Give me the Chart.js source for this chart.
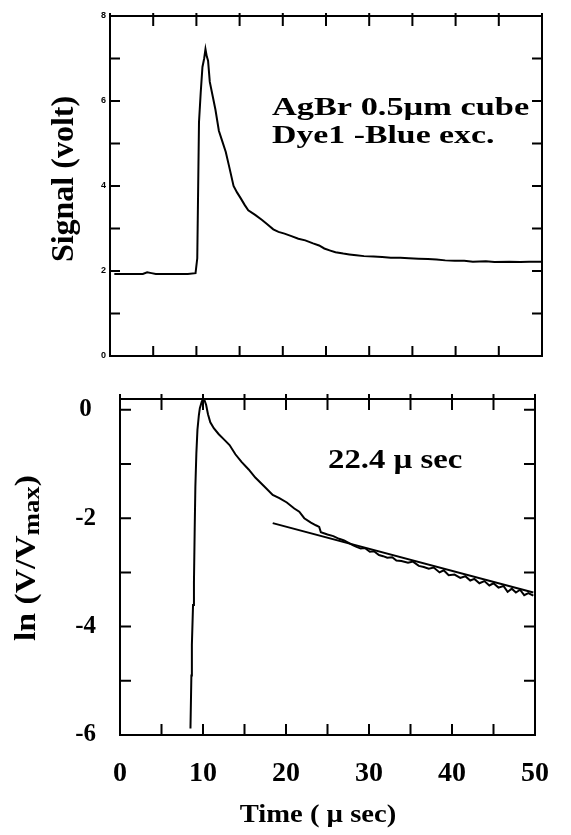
<!DOCTYPE html>
<html>
<head>
<meta charset="utf-8">
<script src="https://cdn.jsdelivr.net/npm/chart.js@4.4.1/dist/chart.umd.min.js"></script>
<style>
  body { margin: 0; background: #fff; }
  canvas { position: absolute; left: 0; }
  #signal { top: 0; }
  #lnplot { top: 360px; }
</style>
</head>
<body>
<canvas id="signal" width="571" height="372"></canvas>
<canvas id="lnplot" width="571" height="475"></canvas>
<script>
// top panel: raw signal
const signalTime = [0.5, 2.0, 3.8, 4.3, 4.8, 5.3, 7.0, 9.0, 9.9, 10.1, 10.3, 10.5, 10.7, 10.9, 11.05,
  11.2, 11.35, 11.55, 11.9, 12.2, 12.6, 13.0, 13.4, 13.8, 14.3, 14.7, 15.1, 15.6, 16.0, 16.8, 17.6,
  18.2, 18.9, 19.5, 20.2, 21.0, 21.8, 22.6, 23.5, 24.2, 24.8, 25.5, 26.1, 27.0, 27.7, 28.5, 29.4,
  30.5, 31.5, 32.5, 33.6, 34.6, 35.7, 36.8, 37.8, 38.8, 39.9, 41.0, 42.0, 43.5, 44.5, 46.2, 47.5,
  48.5, 50.0];
const signalVolt = [1.93, 1.93, 1.93, 1.97, 1.95, 1.93, 1.93, 1.93, 1.95, 2.3, 5.5, 6.2, 6.8, 7.0, 7.22,
  7.05, 6.95, 6.45, 6.1, 5.8, 5.3, 5.05, 4.8, 4.45, 4.0, 3.85, 3.72, 3.55, 3.43, 3.32, 3.2,
  3.1, 2.98, 2.92, 2.88, 2.82, 2.76, 2.72, 2.65, 2.6, 2.53, 2.48, 2.44, 2.41, 2.39, 2.37, 2.35,
  2.34, 2.33, 2.31, 2.31, 2.3, 2.29, 2.28, 2.27, 2.25, 2.24, 2.24, 2.22, 2.23, 2.21, 2.22, 2.21,
  2.22, 2.22];

// bottom panel: ln(V/Vmax) and the fitted tail
const lnTime = [8.49, 8.6, 8.66, 8.8, 8.91, 9.0, 9.08, 9.2, 9.33, 9.5, 9.62, 9.85, 10.04, 10.2, 10.38,
  10.6, 10.88, 11.3, 11.9, 12.55, 13.2, 13.9, 14.64, 15.5, 16.3, 17.3, 18.4, 19.2, 20.1, 21.0, 21.6,
  22.2, 23.0, 23.6, 24.0, 24.2, 25.0, 25.7, 26.4, 27.0, 27.6, 28.1, 28.5, 29.0, 29.5, 30.1, 30.6,
  31.2, 31.7, 32.2, 32.8, 33.3, 33.9, 34.7, 35.3, 36.0, 36.6, 37.2, 37.8, 38.5, 39.0, 39.6, 40.3,
  41.0, 41.6, 42.2, 42.7, 43.3, 43.9, 44.5, 45.0, 45.6, 46.2, 46.7, 47.2, 47.7, 48.2, 48.7, 49.2, 49.8];
const lnValue = [-5.88, -4.9, -4.34, -3.6, -3.17, -2.2, -1.42, -0.8, -0.37, -0.1, 0.03, 0.15, 0.21, 0.17, 0.09,
  -0.08, -0.23, -0.34, -0.45, -0.55, -0.65, -0.82, -0.96, -1.1, -1.25, -1.4, -1.57, -1.63, -1.71, -1.82, -1.88,
  -2.0, -2.08, -2.13, -2.16, -2.26, -2.3, -2.33, -2.38, -2.41, -2.46, -2.5, -2.53, -2.56, -2.55, -2.62, -2.61,
  -2.68, -2.7, -2.73, -2.72, -2.78, -2.79, -2.82, -2.8, -2.88, -2.9, -2.93, -2.91, -3.0, -2.96, -3.05, -3.04,
  -3.1, -3.07, -3.15, -3.12, -3.2, -3.16, -3.24, -3.2, -3.28, -3.25, -3.36, -3.3, -3.37, -3.32, -3.42, -3.38, -3.43];
const fitTime = [18.4, 49.8];
const fitValue = [-2.09, -3.37];

const xTicks = [0, 10, 20, 30, 40, 50];

const toPoints = (xs, ys) => xs.map((x, i) => ({ x: x, y: ys[i] }));
const serif = '"Liberation Serif", "Times New Roman", serif';

// draws text runs (with optional subscript), stretched horizontally like the scanned figure
function drawRuns(ctx, runs, x, y, size, stretch, rot, align) {
  ctx.save();
  ctx.translate(x, y);
  ctx.rotate(rot || 0);
  ctx.scale(stretch, 1);
  ctx.fillStyle = "#000";
  ctx.textBaseline = "alphabetic";
  ctx.textAlign = "left";
  let total = 0;
  const parts = runs.map(r => {
    const s = r.sub ? size * 0.8 : size;
    ctx.font = "bold " + s + "px " + serif;
    const w = ctx.measureText(r.t).width;
    total += w;
    return { t: r.t, s: s, w: w, dy: r.sub ? size * 0.12 : 0 };
  });
  let cx = align === "center" ? -total / 2 : 0;
  parts.forEach(p => {
    ctx.font = "bold " + p.s + "px " + serif;
    ctx.fillText(p.t, cx, p.dy);
    cx += p.w;
  });
  ctx.restore();
}

// box with inward ticks on all four sides
const frame = {
  id: "frame",
  afterDatasetsDraw(chart, args, opts) {
    const { ctx, chartArea: a, scales: { x, y } } = chart;
    ctx.save();
    ctx.strokeStyle = "#000";
    ctx.lineWidth = 2;
    ctx.strokeRect(a.left, a.top, a.right - a.left, a.bottom - a.top);
    ctx.beginPath();
    x.ticks.forEach(t => {
      const px = x.getPixelForValue(t.value);
      ctx.moveTo(px, a.bottom); ctx.lineTo(px, a.bottom - opts.len);
      ctx.moveTo(px, a.top - opts.out); ctx.lineTo(px, a.top + opts.len);
    });
    y.ticks.forEach(t => {
      const py = y.getPixelForValue(t.value);
      ctx.moveTo(a.left, py); ctx.lineTo(a.left + opts.len, py);
      ctx.moveTo(a.right, py); ctx.lineTo(a.right - opts.len, py);
    });
    ctx.stroke();
    ctx.restore();
  }
};

const notes = {
  id: "notes",
  afterDraw(chart, args, opts) {
    (opts.items || []).forEach(n => {
      drawRuns(chart.ctx, n.runs, n.x, n.y, n.size, n.stretch, n.rot, n.align);
    });
  }
};

const line = (data) => ({
  data: data,
  borderColor: "#000",
  borderWidth: 2,
  pointRadius: 0,
  tension: 0,
});

new Chart(document.getElementById("signal"), {
  type: "line",
  data: { datasets: [line(toPoints(signalTime, signalVolt))] },
  plugins: [frame, notes],
  options: {
    responsive: false,
    animation: false,
    layout: { padding: { top: 16, right: 29, left: 0, bottom: 0 } },
    scales: {
      x: {
        type: "linear", min: 0, max: 50,
        grid: { display: false, drawTicks: false }, border: { display: false },
        ticks: { display: false, stepSize: 5 },
        afterFit: (s) => { s.height = 16; },
      },
      y: {
        min: 0, max: 8,
        grid: { display: false, drawTicks: false }, border: { display: false },
        ticks: {
          stepSize: 1, padding: 4, color: "#000",
          font: { family: '"Liberation Sans", Arial, sans-serif', size: 9, weight: "bold" },
          callback: (v) => (v % 2 === 0 ? v : ""),
        },
        afterFit: (s) => { s.width = 110; },
      },
    },
    plugins: {
      legend: { display: false },
      tooltip: { enabled: false },
      frame: { len: 10, out: 3 },
      notes: {
        items: [
          { runs: [{ t: "Signal (volt)" }], x: 73, y: 179, size: 32, stretch: 1.0, rot: -Math.PI / 2, align: "center" },
          { runs: [{ t: "AgBr 0.5\u00b5m cube" }], x: 272, y: 115, size: 26, stretch: 1.32 },
          { runs: [{ t: "Dye1 -Blue exc." }], x: 272, y: 143, size: 26, stretch: 1.3 },
        ],
      },
    },
  },
});

new Chart(document.getElementById("lnplot"), {
  type: "line",
  data: {
    datasets: [
      line(toPoints(lnTime, lnValue)),
      line(toPoints(fitTime, fitValue)),
    ],
  },
  plugins: [frame, notes],
  options: {
    responsive: false,
    animation: false,
    layout: { padding: { top: 20, right: 18, left: 0, bottom: 0 } },
    scales: {
      x: {
        type: "linear", min: 0, max: 50,
        grid: { display: false, drawTicks: false }, border: { display: false },
        ticks: {
          stepSize: 5, padding: 22, color: "#000", maxRotation: 0,
          font: { family: serif, size: 28, weight: "bold" },
          callback: (v) => (xTicks.includes(v) ? v : ""),
        },
        afterFit: (s) => { s.height = 100; },
      },
      y: {
        min: -6, max: 0.2,
        grid: { display: false, drawTicks: false }, border: { display: false },
        ticks: {
          stepSize: 1, includeBounds: false, padding: 24, crossAlign: "center", color: "#000",
          font: { family: serif, size: 25, weight: "bold" },
          callback: (v) => (v % 2 === 0 ? v : ""),
        },
        afterFit: (s) => { s.width = 120; },
      },
    },
    plugins: {
      legend: { display: false },
      tooltip: { enabled: false },
      frame: { len: 11, out: 5 },
      notes: {
        items: [
          { runs: [{ t: "ln (V/V" }, { t: "max", sub: true }, { t: ")" }], x: 35, y: 198, size: 30, stretch: 1.12, rot: -Math.PI / 2, align: "center" },
          { runs: [{ t: "22.4 \u00b5 sec" }], x: 328, y: 108, size: 28, stretch: 1.17 },
          { runs: [{ t: "Time ( \u00b5 sec)" }], x: 318, y: 462, size: 26, stretch: 1.1, align: "center" },
        ],
      },
    },
  },
});
</script>
</body>
</html>
